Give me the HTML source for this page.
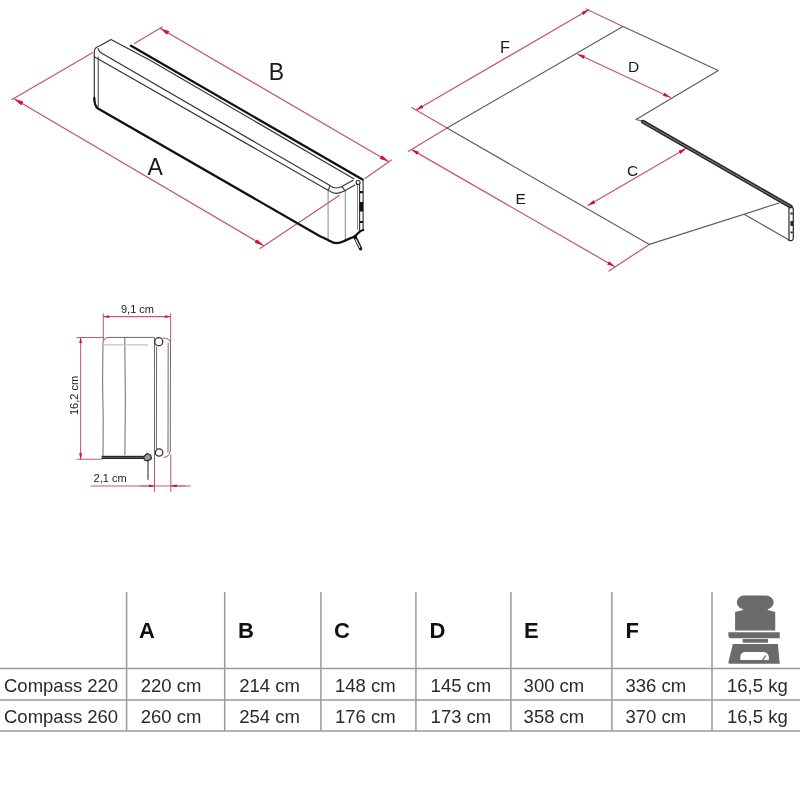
<!DOCTYPE html>
<html><head><meta charset="utf-8">
<style>
html,body{margin:0;padding:0;background:#fff;width:800px;height:800px;overflow:hidden}
svg{display:block;will-change:transform}
text{font-family:"Liberation Sans",sans-serif}
</style></head>
<body>
<svg width="800" height="800" viewBox="0 0 800 800">
<defs>
<marker id="ar" viewBox="0 0 9 4.4" refX="9" refY="2.2" markerWidth="9" markerHeight="4.4" markerUnits="userSpaceOnUse" orient="auto-start-reverse" preserveAspectRatio="none">
<path d="M0,0 L9,2.2 L0,4.4 z" fill="#d41030"/>
</marker>
<marker id="ar3" viewBox="0 0 6 3" refX="6" refY="1.5" markerWidth="6" markerHeight="3" markerUnits="userSpaceOnUse" orient="auto-start-reverse" preserveAspectRatio="none">
<path d="M0,0 L6,1.5 L0,3 z" fill="#d41030"/>
</marker>
<marker id="ar2" viewBox="0 0 7.5 3.8" refX="7.5" refY="1.9" markerWidth="7.5" markerHeight="3.8" markerUnits="userSpaceOnUse" orient="auto-start-reverse" preserveAspectRatio="none">
<path d="M0,0 L7.5,1.9 L0,3.8 z" fill="#d41030"/>
</marker>
</defs>

<!-- ===== Drawing 1: awning box ===== -->
<g fill="none" stroke-linecap="round" stroke-linejoin="round">
 <!-- red dims -->
 <g stroke="#c25474" stroke-width="1.2">
  <line x1="12" y1="99.5" x2="92.5" y2="52.7"/>
  <line x1="260" y1="248.5" x2="339.2" y2="195.4"/>
  <line x1="162" y1="27" x2="134.5" y2="43.5"/>
  <line x1="391.5" y1="160" x2="365" y2="178.5"/>
 </g>
 <g stroke="#c25474" stroke-width="1.25">
  <line x1="14.5" y1="99" x2="263.5" y2="245.5" marker-start="url(#ar)" marker-end="url(#ar)"/>
  <line x1="160.5" y1="28.5" x2="388.5" y2="161.5" marker-start="url(#ar)" marker-end="url(#ar)"/>
 </g>
 <!-- box lines -->
 <g stroke="#333" stroke-width="1.15">
  <!-- outer top-left + thin rail / back edge -->
  <path d="M94.3,100 L94.3,51.5 Q94.5,47 100,45.75 L111,39.5 L150,60.3 L353.75,178.75"/>
  <!-- line1 -->
  <path d="M98,48.5 Q99,51 100.5,52.6 L330,185.6 C332,187 334,188 336,188 C338,188 340,187.5 342,186.6 L353,180.3"/>
  <!-- line2 -->
  <path d="M94.3,56.7 L329.4,190.9 C331.5,192.4 333.5,193.4 336,193.4 C339,193.4 341,192.5 343.75,191.25 L355,185"/>
  <path d="M330,186 L328.1,190.6 M341.9,186.6 L345.3,191.25"/>
  <line x1="98.25" y1="57" x2="98.25" y2="106.5" stroke="#555"/>
  <line x1="363.1" y1="180" x2="363.1" y2="230"/>
  <line x1="359.6" y1="185" x2="359.6" y2="231"/>
 </g>
 <g stroke="#888" stroke-width="1">
  
  <line x1="328.1" y1="190.6" x2="328.1" y2="239.5"/>
  <line x1="345.3" y1="191.3" x2="345.3" y2="240.5"/>
  <line x1="357.5" y1="184.4" x2="357.5" y2="229.4"/>
 </g>
 <g stroke="#111" stroke-width="2.3">
  <!-- rail thick -->
  <path d="M131,45.8 L362.5,179.6"/>
  <!-- bottom -->
  <path d="M94.3,98 Q94.5,106.5 98,108.5 L320,236.25 C324,238 326,239 328.1,240 C331,241.5 333,243.1 336.25,243.1 C340,243.1 342,242 345,240.6 L355,236.25 L358.75,232.5 Q361,230.5 363.1,230"/>
 </g>
 <g fill="#111" stroke="none">
  <rect x="360" y="191" width="3" height="2.2"/>
  <rect x="359.5" y="202" width="3.6" height="9.5"/>
  <rect x="360" y="221" width="3" height="2"/>
 </g>
 <circle cx="358.1" cy="182.5" r="2" stroke="#222" stroke-width="1.1" fill="#fff"/>
 <path d="M355,237 L360.6,248.7" stroke="#1a1a1a" stroke-width="3.4" stroke-linecap="round"/>
 <path d="M355.8,239.5 L359.8,247.5" stroke="#fff" stroke-width="1.1" stroke-linecap="round"/>
 <circle cx="355" cy="237" r="1.8" fill="#111"/>
</g>
<text x="147.5" y="174.5" font-size="23" fill="#1a1a1a">A</text>
<text x="268.8" y="80.3" font-size="23" fill="#1a1a1a">B</text>

<!-- ===== Drawing 2: plan ===== -->
<g fill="none" stroke-linecap="round" stroke-linejoin="round">
 <g stroke="#c25474" stroke-width="1.2">
  <line x1="411.75" y1="107.4" x2="447" y2="128"/>
  <line x1="408.25" y1="151.5" x2="447" y2="128"/>
  <line x1="586" y1="9" x2="623" y2="26.5"/>
  <line x1="608.9" y1="271" x2="649.4" y2="244.4"/>
 </g>
 <g stroke="#c25474" stroke-width="1.25">
  <line x1="416.25" y1="110" x2="588.75" y2="9.75" marker-start="url(#ar2)" marker-end="url(#ar2)"/>
  <line x1="411.6" y1="149.6" x2="614.5" y2="266.5" marker-start="url(#ar2)" marker-end="url(#ar2)"/>
  <line x1="577.5" y1="54" x2="670.5" y2="97.5" marker-start="url(#ar2)" marker-end="url(#ar2)"/>
  <line x1="588" y1="205.5" x2="686" y2="148.5" marker-start="url(#ar2)" marker-end="url(#ar2)"/>
 </g>
 <g stroke="#5c5c5c" stroke-width="1.15">
  <path d="M447,128 L623,26.5 L718.3,70.6 L636,119.5 L642,121"/>
  <path d="M447,128 L649.4,244.4 L779,203"/>
  <path d="M744.5,214.5 L789,240"/>
 </g>
 <g stroke="#2a2a2a" stroke-width="4">
  <path d="M643,121.8 L790.5,206.5"/>
 </g>
 <g stroke="#aaa" stroke-width="0.9" stroke-dasharray="1.2 1.3">
  <path d="M643,121.8 L790.5,206.5"/>
 </g>
 <g stroke="#2a2a2a" stroke-width="1.2">
  <line x1="789" y1="207" x2="789" y2="240"/>
  <path d="M791.5,206 C793,207.5 793.3,209 793.3,210 L793.3,238 C793.3,240 792,241 789,240.5"/>
 </g>
 <g fill="#222" stroke="none">
  <rect x="790.5" y="212.5" width="2.2" height="2"/>
  <rect x="790.5" y="221" width="2.5" height="5"/>
  <rect x="790.5" y="231.5" width="2.2" height="1.8"/>
 </g>
</g>
<text x="500" y="53.3" font-size="16.3" fill="#1a1a1a">F</text>
<text x="628" y="72.2" font-size="15.5" fill="#1a1a1a">D</text>
<text x="627" y="175.6" font-size="15.5" fill="#1a1a1a">C</text>
<text x="515.6" y="204.4" font-size="15.5" fill="#1a1a1a">E</text>

<!-- ===== Drawing 3: cross section ===== -->
<g fill="none" stroke-linecap="round">
 <g stroke="#c8587a" stroke-width="1.05">
  <line x1="103.3" y1="313.7" x2="103.3" y2="340"/>
  <line x1="170.6" y1="313.7" x2="170.6" y2="342"/>
  <line x1="77" y1="337.4" x2="104" y2="337.4"/>
  <line x1="77" y1="459.3" x2="102" y2="459.3"/>
  <line x1="154.5" y1="459" x2="154.5" y2="491.5"/>
  <line x1="170.8" y1="455" x2="170.8" y2="491.5"/>
 </g>
 <g stroke="#c8587a" stroke-width="1.05">
  <line x1="103.3" y1="316.6" x2="170.6" y2="316.6" marker-start="url(#ar3)" marker-end="url(#ar3)"/>
  <line x1="80.6" y1="337.4" x2="80.6" y2="459.3" marker-start="url(#ar3)" marker-end="url(#ar3)"/>
  <line x1="91" y1="485.9" x2="190.3" y2="485.9"/>
  <line x1="140" y1="485.9" x2="154.5" y2="485.9" marker-end="url(#ar3)"/>
  <line x1="185" y1="485.9" x2="170.8" y2="485.9" marker-end="url(#ar3)"/>
 </g>
 <g stroke="#5a5a5a" stroke-width="0.9">
  <path d="M103,456 L103.2,420 L102.6,380 L103,342 C104,339 106,337.6 109,337.4 L154.5,337.4 L154.5,459"/>
  <path d="M124.8,337.4 L125.3,400 L124.9,455"/>
  <line x1="156.6" y1="347" x2="156.4" y2="450"/>
  <path d="M163,338 C167,338 170.5,340 170.5,343 L170.3,450 C170,455 167,457.4 164,457.4"/>
  <line x1="168.2" y1="343" x2="168" y2="452"/>
 </g>
 <line x1="104" y1="344.9" x2="147.6" y2="344.9" stroke="#c4c4c4" stroke-width="1.4"/>
 <circle cx="158.8" cy="341.7" r="4" stroke="#333" stroke-width="1.3" fill="#fff"/>
 <circle cx="159.1" cy="452.5" r="3.7" stroke="#333" stroke-width="1.3" fill="#fff"/>
 <rect x="101.7" y="455.8" width="44.7" height="3.2" fill="#222"/>
 <line x1="102" y1="457.4" x2="146" y2="457.4" stroke="#888" stroke-width="0.7" stroke-dasharray="1 1"/>
 <path d="M143.5,457 L147,453.5 L150.5,455 L151.5,458.5 L148,461 L144.5,460 z" stroke="#333" stroke-width="1.3" fill="#999"/>
 <line x1="148" y1="460" x2="148" y2="479.3" stroke="#444" stroke-width="1.2"/>
</g>
<text x="121" y="313" font-size="11" fill="#1a1a1a">9,1 cm</text>
<text x="93.6" y="482" font-size="11" fill="#1a1a1a">2,1 cm</text>
<text transform="translate(77.5,415) rotate(-90)" x="0" y="0" font-size="11" fill="#1a1a1a">16,2 cm</text>

<!-- ===== Table ===== -->
<g stroke="#9a9a9a" stroke-width="1.5">
 <line x1="0" y1="668.4" x2="800" y2="668.4"/>
 <line x1="0" y1="699.9" x2="800" y2="699.9"/>
 <line x1="0" y1="731" x2="800" y2="731"/>
 <line x1="126.6" y1="592" x2="126.6" y2="731"/>
 <line x1="224.7" y1="592" x2="224.7" y2="731"/>
 <line x1="320.9" y1="592" x2="320.9" y2="731"/>
 <line x1="415.9" y1="592" x2="415.9" y2="731"/>
 <line x1="510.9" y1="592" x2="510.9" y2="731"/>
 <line x1="611.9" y1="592" x2="611.9" y2="731"/>
 <line x1="712" y1="592" x2="712" y2="731"/>
</g>
<g font-size="22" font-weight="bold" fill="#111">
 <text x="139.0" y="638.4">A</text>
 <text x="238.0" y="638.4">B</text>
 <text x="334.0" y="638.4">C</text>
 <text x="429.6" y="638.4">D</text>
 <text x="524.0" y="638.4">E</text>
 <text x="625.6" y="638.4">F</text>
</g>
<g font-size="18.5" fill="#2a2a2a">
 <text x="4" y="692">Compass 220</text>
 <text x="140.8" y="691.5">220 cm</text>
 <text x="239.2" y="691.5">214 cm</text>
 <text x="335" y="691.5">148 cm</text>
 <text x="430.6" y="691.5">145 cm</text>
 <text x="523.6" y="691.5">300 cm</text>
 <text x="625.4" y="691.5">336 cm</text>
 <text x="727" y="691.5">16,5 kg</text>
 <text x="4" y="722.8">Compass 260</text>
 <text x="140.8" y="722.8">260 cm</text>
 <text x="239.2" y="722.8">254 cm</text>
 <text x="335" y="722.8">176 cm</text>
 <text x="430.6" y="722.8">173 cm</text>
 <text x="523.6" y="722.8">358 cm</text>
 <text x="625.4" y="722.8">370 cm</text>
 <text x="727" y="722.8">16,5 kg</text>
</g>

<!-- weight icon -->
<g fill="#6b6b6b">
 <path d="M743,595.6 L766.25,595.6 C770.5,596 773.6,599 773.6,602.4 C773.6,605.5 771,608 767.75,609.1 L767.75,610 C770,610.8 773,611.4 775.25,611.75 L775.25,630.5 L735.1,630.5 L735.1,611.75 C737.5,611.4 740.5,610.8 743,610 L743,609.1 C739.5,608 736.9,605.5 736.9,602.4 C736.9,599 740,596 743,595.6 z"/>
 <path d="M728.4,632.3 L779.75,632.3 L779.75,638.3 L731,638.3 C729.3,638.3 728.4,637 728.4,635.5 z"/>
 <path d="M742.6,638.9 L768.1,638.9 L768.1,641.5 C768.1,642.3 767.5,642.8 766.5,642.8 L744.2,642.8 C743.2,642.8 742.6,642.3 742.6,641.5 z"/>
 <path fill-rule="evenodd" d="M732.9,643.9 L777.9,643.9 L779.75,663.75 L730,663.75 C728.8,663.75 728.3,663 728.4,662 z M745,652.1 L764,652.1 C766.5,652.1 768.9,655 768.9,657.5 L768.9,660 L740.4,660 L740.4,656.5 C740.4,654 742.5,652.1 745,652.1 z"/>
</g>
<line x1="762.5" y1="660.3" x2="765.8" y2="655.5" stroke="#6b6b6b" stroke-width="1.3"/>
</svg>
</body></html>
